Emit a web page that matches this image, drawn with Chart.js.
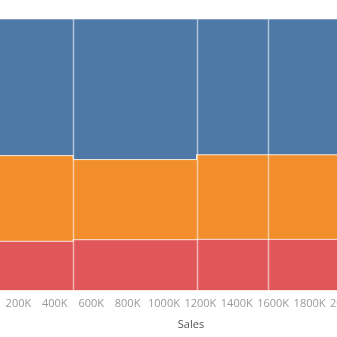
<!DOCTYPE html>
<html>
<head>
<meta charset="utf-8">
<script src="https://cdn.jsdelivr.net/npm/chart.js@4/dist/chart.umd.min.js"></script>
<style>
  html, body { margin: 0; padding: 0; background: #fff; overflow: hidden; width: 337px; height: 337px; }
  #wrap { position: absolute; left: -18px; top: 0; width: 418px; height: 337px; }
</style>
</head>
<body>
<div id="wrap"><canvas id="chart"></canvas></div>
<script>
// Sales by region (columns) and segment (stacks), in thousands
const regions = ['Central', 'East', 'South', 'West'];
const consumerSales = [252, 351, 196, 363];
const corporateSales = [158, 200, 122, 226];
const homeOfficeSales = [91, 127, 74, 137];
const xTicks = [200, 400, 600, 800, 1000, 1200, 1400, 1600, 1800, 2000];

const totals = regions.map((r, i) => consumerSales[i] + corporateSales[i] + homeOfficeSales[i]);
const starts = [];
let acc = 0;
totals.forEach(t => { starts.push(acc); acc += t; });
const grandTotal = acc;

// stepped boundary line for the top of a stack level
function boundary(shareFn) {
  const pts = regions.map((r, i) => ({ x: starts[i], y: shareFn(i) }));
  pts.push({ x: grandTotal, y: shareFn(regions.length - 1) });
  return pts;
}

const homeTop = boundary(i => homeOfficeSales[i] / totals[i] * 100);
const corpTop = boundary(i => (homeOfficeSales[i] + corporateSales[i]) / totals[i] * 100);
const consTop = boundary(i => 100);

const separators = {
  id: 'separators',
  afterDatasetsDraw(chart) {
    const { ctx, chartArea, scales } = chart;
    ctx.save();
    ctx.strokeStyle = 'rgba(255,255,255,0.55)';
    ctx.lineWidth = 1.5;
    starts.slice(1).forEach(v => {
      const x = Math.round(scales.x.getPixelForValue(v)) + 0.5;
      ctx.beginPath();
      ctx.moveTo(x, chartArea.top);
      ctx.lineTo(x, chartArea.bottom);
      ctx.stroke();
    });
    ctx.restore();
  }
};

const ctx = document.getElementById('chart').getContext('2d');
new Chart(ctx, {
  type: 'line',
  data: {
    datasets: [
      {
        label: 'Home Office',
        data: homeTop,
        stepped: 'before',
        fill: 'origin',
        backgroundColor: '#e15759',
        borderColor: 'rgba(255,255,255,0.75)',
        borderWidth: 1,
        pointRadius: 0
      },
      {
        label: 'Corporate',
        data: corpTop,
        stepped: 'before',
        fill: '-1',
        backgroundColor: '#f28e2b',
        borderColor: 'rgba(255,255,255,0.75)',
        borderWidth: 1,
        pointRadius: 0
      },
      {
        label: 'Consumer',
        data: consTop,
        stepped: 'before',
        fill: '-1',
        backgroundColor: '#4e79a7',
        borderColor: 'rgba(255,255,255,0.6)',
        borderWidth: 1,
        pointRadius: 0
      }
    ]
  },
  options: {
    responsive: true,
    maintainAspectRatio: false,
    animation: false,
    layout: { padding: { top: 19, bottom: 6, left: 0, right: 0 } },
    plugins: {
      legend: { display: false },
      tooltip: { enabled: false }
    },
    scales: {
      x: {
        type: 'linear',
        min: 0,
        max: grandTotal,
        grid: { display: false, drawTicks: false },
        border: { display: false },
        afterBuildTicks: axis => { axis.ticks = xTicks.map(v => ({ value: v })); },
        ticks: {
          color: '#9a9a9a',
          font: { size: 11, family: "'Open Sans', Arial, sans-serif" },
          padding: 7,
          maxRotation: 0,
          autoSkip: false,
          callback: v => v + 'K'
        },
        title: {
          display: true,
          text: 'Sales',
          color: '#555',
          font: { size: 11, family: "'Open Sans', Arial, sans-serif" },
          padding: { top: 0, bottom: 0 }
        }
      },
      y: {
        display: false,
        min: 0,
        max: 100
      }
    }
  },
  plugins: [separators]
});
</script>
</body>
</html>
